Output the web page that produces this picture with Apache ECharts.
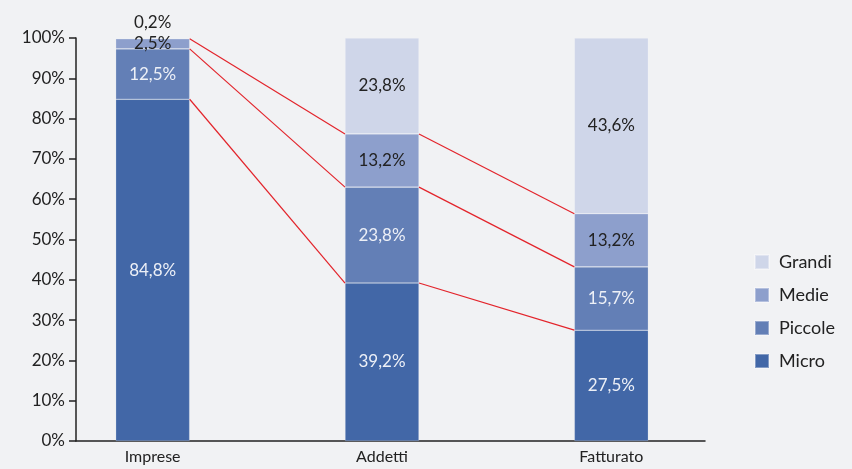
<!DOCTYPE html>
<html>
<head>
<meta charset="utf-8">
<script src="https://cdn.jsdelivr.net/npm/echarts@6/dist/echarts.min.js"></script>
<style>
  html, body { margin: 0; padding: 0; background: #f1f2f4; }
  #chart { width: 852px; height: 469px; }
</style>
</head>
<body>
<div id="chart"></div>
<script>
// categorie sull'asse x
var categories = ['Imprese', 'Addetti', 'Fatturato']
// quote percentuali per classe dimensionale
var micro   = [84.8, 39.2, 27.5]
var piccole = [12.5, 23.8, 15.7]
var medie   = [2.5, 13.2, 13.2]
var grandi  = [0.2, 23.8, 43.6]

var BAR_W = 74
var FONT = 'Lato, "Noto Sans", sans-serif'

function fmt(v) {
  return v.toFixed(1).replace('.', ',') + '%'
}

// confini cumulati tra le classi, per le linee rosse
var bounds = []
for (var i = 0; i < categories.length - 1; i++) {
  var c1 = 0, c2 = 0
  var a = [micro, piccole, medie]
  for (var k = 0; k < a.length; k++) {
    c1 += a[k][i]
    c2 += a[k][i + 1]
    bounds.push([i, c1, i + 1, c2])
  }
}

var myChart = echarts.init(document.getElementById('chart'))

var labelBase = {
  show: true,
  position: 'inside',
  fontFamily: FONT,
  fontSize: 17,
  formatter: function (p) { return fmt(p.value) }
}
var border = { borderColor: 'rgba(255,255,255,0.35)', borderWidth: 0.6 }

myChart.setOption({
  backgroundColor: '#f1f2f4',
  animation: false,
  grid: [
    // griglia delle barre (bande larghe 229px)
    { left: 38, right: 126, top: 38, bottom: 28 },
    // griglia degli assi visibili
    { left: 76, right: 147, top: 38, bottom: 28 }
  ],
  legend: {
    orient: 'vertical',
    left: 749,
    top: 248,
    itemWidth: 14,
    itemHeight: 14,
    itemGap: 15,
    icon: 'rect',
    data: ['Grandi', 'Medie', 'Piccole', 'Micro'],
    textStyle: { fontFamily: FONT, fontSize: 18, color: '#222', padding: [0, 0, 0, 5] }
  },
  xAxis: [
    {
      type: 'category',
      gridIndex: 0,
      data: categories,
      axisLine: { show: false },
      axisTick: { show: false },
      axisLabel: { color: '#222', fontFamily: FONT, fontSize: 16, margin: 8 }
    },
    {
      type: 'value',
      gridIndex: 1,
      min: 0,
      max: 1,
      splitLine: { show: false },
      axisLine: { show: true, onZero: false, lineStyle: { color: '#222', width: 1.5 } },
      axisTick: { show: false },
      axisLabel: { show: false }
    }
  ],
  yAxis: [
    {
      type: 'value',
      gridIndex: 0,
      min: 0,
      max: 100,
      show: false
    },
    {
      type: 'value',
      gridIndex: 1,
      min: 0,
      max: 100,
      interval: 10,
      splitLine: { show: false },
      axisLine: { show: true, onZero: false, lineStyle: { color: '#222', width: 1.5 } },
      axisTick: { show: true, length: 7, lineStyle: { color: '#222', width: 1.5 } },
      axisLabel: {
        color: '#222',
        fontFamily: FONT,
        fontSize: 17,
        margin: 11,
        formatter: '{value}%'
      }
    }
  ],
  series: [
    {
      name: 'Micro', type: 'bar', stack: 'tot', barWidth: BAR_W,
      itemStyle: Object.assign({ color: '#4267a7' }, border),
      label: Object.assign({}, labelBase, { color: '#edf0f7' }),
      data: micro
    },
    {
      name: 'Piccole', type: 'bar', stack: 'tot', barWidth: BAR_W,
      itemStyle: Object.assign({ color: '#637fb6' }, border),
      label: Object.assign({}, labelBase, { color: '#edf0f7' }),
      data: piccole
    },
    {
      name: 'Medie', type: 'bar', stack: 'tot', barWidth: BAR_W,
      itemStyle: Object.assign({ color: '#8d9fcc' }, border),
      label: Object.assign({}, labelBase, { color: '#222' }),
      data: medie
    },
    {
      name: 'Grandi', type: 'bar', stack: 'tot', barWidth: BAR_W,
      itemStyle: Object.assign({ color: '#cfd6e9' }, border),
      label: Object.assign({}, labelBase, { color: '#222' }),
      data: grandi.map(function (v, i) {
        // quota troppo piccola: etichetta sopra la barra
        if (i === 0) return { value: v, label: { position: 'top', distance: 7 } }
        return v
      })
    },
    {
      name: 'linee', type: 'custom', silent: true, z: 5,
      renderItem: function (params, api) {
        var p1 = api.coord([api.value(0), api.value(1)])
        var p2 = api.coord([api.value(2), api.value(3)])
        return {
          type: 'line',
          shape: { x1: p1[0] + BAR_W / 2, y1: p1[1], x2: p2[0] - BAR_W / 2, y2: p2[1] },
          style: { stroke: '#e3242b', lineWidth: 1.2 }
        }
      },
      data: bounds
    }
  ]
})
</script>
</body>
</html>
